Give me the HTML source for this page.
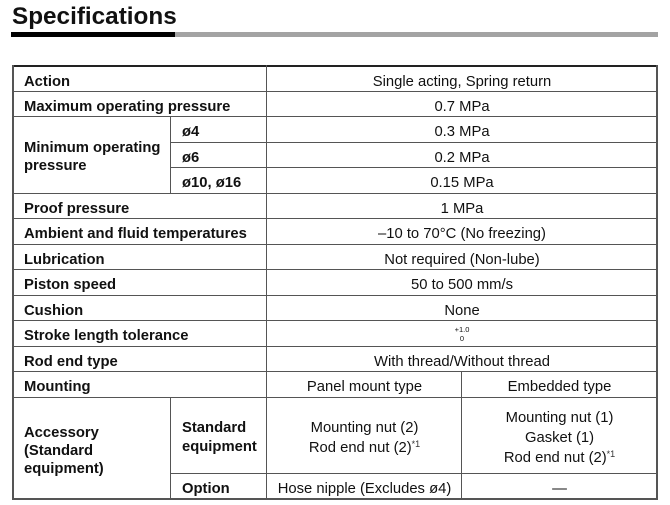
<!DOCTYPE html>
<html><head><meta charset="utf-8">
<style>
*{margin:0;padding:0;box-sizing:border-box}
html,body{width:670px;height:505px;background:#fff;overflow:hidden}
body{position:relative;font-family:"Liberation Sans",Arial,sans-serif;color:#111}
.title{position:absolute;left:12px;top:3px;font-size:24.3px;line-height:28px;font-weight:bold;color:#111}
.bk{position:absolute;left:11px;top:32px;width:164px;height:5px;background:#000}
.gy{position:absolute;left:175px;top:32px;width:483px;height:5px;background:#a3a3a3}
.h{position:absolute;height:1px;background:#555}
.v{position:absolute;width:1px;background:#555}
.c{position:absolute;display:flex;align-items:center;font-size:14.8px;line-height:18px}
.c>div{position:relative;top:2px}
.b{font-weight:bold;padding-left:11px}
.m{justify-content:center;text-align:center;font-size:14.8px}
.lh20{line-height:20px}
sup{font-size:9px;vertical-align:5px;line-height:0;color:#333}
</style></head><body>
<div class="title">Specifications</div>
<div class="bk"></div><div class="gy"></div>

<!-- top border -->
<div class="h" style="left:12px;top:65px;width:646px;height:2px;background:#222"></div>
<!-- full horizontal lines -->
<div class="h" style="left:12px;top:91px;width:646px"></div>
<div class="h" style="left:12px;top:116px;width:646px"></div>
<div class="h" style="left:12px;top:193px;width:646px"></div>
<div class="h" style="left:12px;top:218px;width:646px"></div>
<div class="h" style="left:12px;top:244px;width:646px"></div>
<div class="h" style="left:12px;top:269px;width:646px"></div>
<div class="h" style="left:12px;top:295px;width:646px"></div>
<div class="h" style="left:12px;top:320px;width:646px"></div>
<div class="h" style="left:12px;top:346px;width:646px"></div>
<div class="h" style="left:12px;top:371px;width:646px"></div>
<div class="h" style="left:12px;top:397px;width:646px"></div>
<div class="h" style="left:12px;top:498px;width:646px;height:2px"></div>
<!-- partial horizontals -->
<div class="h" style="left:171px;top:142px;width:487px"></div>
<div class="h" style="left:171px;top:167px;width:487px"></div>
<div class="h" style="left:171px;top:473px;width:487px"></div>
<!-- verticals -->
<div class="v" style="left:12px;top:65px;height:435px;width:2px"></div>
<div class="v" style="left:656px;top:65px;height:435px;width:2px"></div>
<div class="v" style="left:266px;top:65px;height:435px"></div>
<div class="v" style="left:170px;top:116px;height:78px"></div>
<div class="v" style="left:170px;top:397px;height:103px"></div>
<div class="v" style="left:461px;top:371px;height:129px"></div>

<!-- labels -->
<div class="c b" style="left:13px;top:67px;width:254px;height:25px"><div>Action</div></div>
<div class="c b" style="left:13px;top:92px;width:254px;height:25px"><div>Maximum operating pressure</div></div>
<div class="c b" style="left:13px;top:117px;width:158px;height:77px;line-height:17.5px"><div>Minimum operating<br>pressure</div></div>
<div class="c b" style="left:171px;top:117px;width:96px;height:26px"><div>ø4</div></div>
<div class="c b" style="left:171px;top:143px;width:96px;height:25px"><div>ø6</div></div>
<div class="c b" style="left:171px;top:168px;width:96px;height:26px"><div>ø10, ø16</div></div>
<div class="c b" style="left:13px;top:194px;width:254px;height:25px"><div>Proof pressure</div></div>
<div class="c b" style="left:13px;top:219px;width:254px;height:26px"><div>Ambient and fluid temperatures</div></div>
<div class="c b" style="left:13px;top:245px;width:254px;height:25px"><div>Lubrication</div></div>
<div class="c b" style="left:13px;top:270px;width:254px;height:26px"><div>Piston speed</div></div>
<div class="c b" style="left:13px;top:296px;width:254px;height:25px"><div>Cushion</div></div>
<div class="c b" style="left:13px;top:321px;width:254px;height:26px"><div>Stroke length tolerance</div></div>
<div class="c b" style="left:13px;top:347px;width:254px;height:25px"><div>Rod end type</div></div>
<div class="c b" style="left:13px;top:372px;width:254px;height:26px"><div>Mounting</div></div>
<div class="c b" style="left:13px;top:398px;width:158px;height:101px"><div>Accessory<br>(Standard<br>equipment)</div></div>
<div class="c b" style="left:171px;top:398px;width:96px;height:76px;line-height:19px"><div>Standard<br>equipment</div></div>
<div class="c b" style="left:171px;top:474px;width:96px;height:25px"><div>Option</div></div>

<!-- values -->
<div class="c m" style="left:267px;top:67px;width:390px;height:25px"><div>Single acting, Spring return</div></div>
<div class="c m" style="left:267px;top:92px;width:390px;height:25px"><div>0.7 MPa</div></div>
<div class="c m" style="left:267px;top:117px;width:390px;height:26px"><div>0.3 MPa</div></div>
<div class="c m" style="left:267px;top:143px;width:390px;height:25px"><div>0.2 MPa</div></div>
<div class="c m" style="left:267px;top:168px;width:390px;height:26px"><div>0.15 MPa</div></div>
<div class="c m" style="left:267px;top:194px;width:390px;height:25px"><div>1 MPa</div></div>
<div class="c m" style="left:267px;top:219px;width:390px;height:26px"><div>–10 to 70°C (No freezing)</div></div>
<div class="c m" style="left:267px;top:245px;width:390px;height:25px"><div>Not required (Non-lube)</div></div>
<div class="c m" style="left:267px;top:270px;width:390px;height:26px"><div>50 to 500 mm/s</div></div>
<div class="c m" style="left:267px;top:296px;width:390px;height:25px"><div>None</div></div>
<div class="c m" style="left:267px;top:321px;width:390px;height:26px;font-size:7.5px;line-height:9.5px"><div style="top:0">+1.0<br>0</div></div>
<div class="c m" style="left:267px;top:347px;width:390px;height:25px"><div>With thread/Without thread</div></div>
<div class="c m" style="left:267px;top:372px;width:195px;height:26px"><div>Panel mount type</div></div>
<div class="c m" style="left:462px;top:372px;width:195px;height:26px"><div>Embedded type</div></div>
<div class="c m lh20" style="left:267px;top:398px;width:195px;height:76px"><div>Mounting nut (2)<br>Rod end nut (2)<sup>*1</sup></div></div>
<div class="c m lh20" style="left:462px;top:398px;width:195px;height:76px"><div>Mounting nut (1)<br>Gasket (1)<br>Rod end nut (2)<sup>*1</sup></div></div>
<div class="c m" style="left:267px;top:474px;width:195px;height:25px"><div>Hose nipple (Excludes ø4)</div></div>
<div class="c m" style="left:462px;top:474px;width:195px;height:25px"><div>—</div></div>
</body></html>
